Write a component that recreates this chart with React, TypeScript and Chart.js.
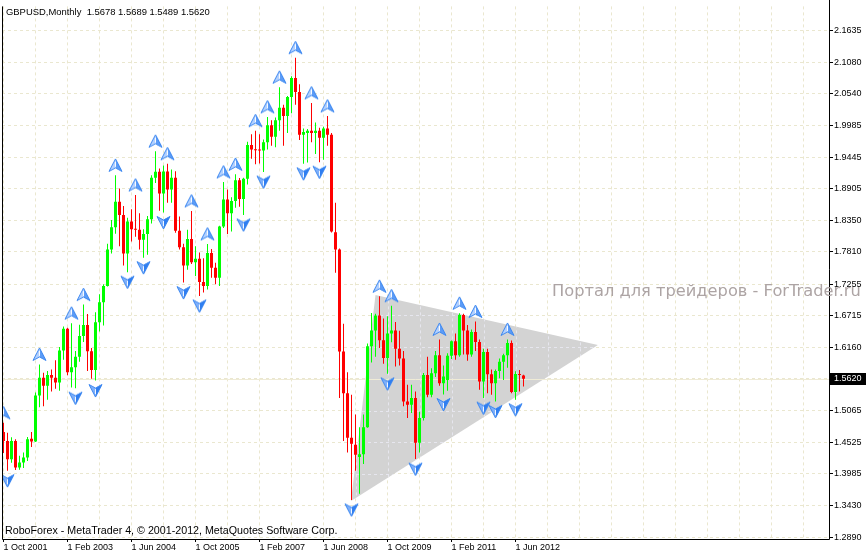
import React, { useEffect, useRef } from 'react';
import { Chart, registerables } from 'chart.js';
Chart.register(...registerables);

// ---- data: GBPUSD monthly, first bar = Oct 2001 ----
const startYear = 2001;
const startMonth = 9; // October (0-based)
const MONTHS = ['Jan', 'Feb', 'Mar', 'Apr', 'May', 'Jun', 'Jul', 'Aug', 'Sep', 'Oct', 'Nov', 'Dec'];

const opens = [
  1.4700, 1.4547, 1.4230, 1.4547, 1.4091, 1.4177, 1.4262, 1.4587, 1.4540, 1.5333,
  1.5640, 1.5498, 1.5686, 1.5640, 1.5555, 1.6110, 1.6483, 1.5731, 1.5818, 1.6000,
  1.6357, 1.6550, 1.6095, 1.5770, 1.6597, 1.6940, 1.7223, 1.7850, 1.8236, 1.8674,
  1.8447, 1.7780, 1.8333, 1.8200, 1.8190, 1.8020, 1.8117, 1.8373, 1.9090, 1.9190,
  1.8817, 1.9198, 1.8885, 1.9090, 1.8174, 1.7890, 1.7576, 1.8030, 1.7630, 1.7690,
  1.7290, 1.7223, 1.7790, 1.7536, 1.7365, 1.8248, 1.8714, 1.8475, 1.8686, 1.9045,
  1.8720, 1.9073, 1.9654, 1.9574, 1.9565, 1.9560, 1.9700, 1.9995, 1.9796, 2.0080,
  2.0297, 2.0155, 2.0480, 2.0810, 2.0570, 1.9830, 1.9860, 1.9900, 1.9860, 1.9900,
  1.9780, 1.9940, 1.9830, 1.8150, 1.7850, 1.6090, 1.5370, 1.4604, 1.4480, 1.4270,
  1.4320, 1.4786, 1.6181, 1.6454, 1.6710, 1.6283, 1.5980, 1.6400, 1.6454, 1.6140,
  1.5970, 1.5230, 1.5173, 1.5290, 1.4518, 1.4945, 1.5686, 1.5344, 1.5714, 1.6027,
  1.5543, 1.5600, 1.6016, 1.6266, 1.6027, 1.6720, 1.6454, 1.6040, 1.6426, 1.6255,
  1.5572, 1.6084, 1.5697, 1.5543, 1.5754, 1.5913, 1.6027, 1.6238, 1.5390, 1.5703,
  1.5678,
];
const highs = [
  1.4860, 1.4689, 1.4610, 1.4575, 1.4291, 1.4348, 1.4615, 1.4701, 1.5384, 1.5868,
  1.5725, 1.5754, 1.5782, 1.5942, 1.6170, 1.6520, 1.6500, 1.6580, 1.6100, 1.6551,
  1.6900, 1.6738, 1.6150, 1.6768, 1.7080, 1.7251, 1.7951, 1.8361, 1.9130, 1.8902,
  1.8600, 1.8400, 1.8544, 1.8790, 1.8475, 1.8200, 1.8430, 1.9130, 1.9546, 1.9250,
  1.9300, 1.9330, 1.9233, 1.9200, 1.8420, 1.7950, 1.8190, 1.8515, 1.7905, 1.7800,
  1.7700, 1.7946, 1.7860, 1.7621, 1.8260, 1.9016, 1.8885, 1.8750, 1.9147, 1.9085,
  1.9090, 1.9710, 1.9840, 1.9900, 1.9840, 1.9750, 2.0138, 2.0080, 2.0130, 2.0650,
  2.0350, 2.0500, 2.0838, 2.1160, 2.0700, 1.9940, 1.9930, 2.0380, 2.0041, 1.9950,
  1.9970, 2.0155, 1.9860, 1.8657, 1.7870, 1.6568, 1.5731, 1.5344, 1.5003, 1.4786,
  1.5003, 1.6230, 1.6756, 1.6740, 1.7043, 1.6660, 1.6700, 1.6880, 1.6600, 1.6450,
  1.6100, 1.5515, 1.5515, 1.5400, 1.5050, 1.5720, 1.5999, 1.5800, 1.6100, 1.6300,
  1.5850, 1.6060, 1.6280, 1.6400, 1.6750, 1.6740, 1.6550, 1.6470, 1.6608, 1.6300,
  1.6140, 1.6140, 1.5780, 1.5780, 1.5970, 1.6050, 1.6300, 1.6280, 1.5750, 1.5770,
  1.5689,
];
const lows = [
  1.4340, 1.4035, 1.4170, 1.4046, 1.4050, 1.4080, 1.4200, 1.4444, 1.4530, 1.5128,
  1.5145, 1.5259, 1.5401, 1.5450, 1.5412, 1.5950, 1.5680, 1.5470, 1.5458, 1.5913,
  1.6255, 1.5754, 1.5620, 1.5590, 1.6438, 1.6540, 1.7211, 1.7781, 1.8122, 1.7906,
  1.7576, 1.7460, 1.7990, 1.8070, 1.7850, 1.7710, 1.7760, 1.8300, 1.9000, 1.8520,
  1.8490, 1.8658, 1.8658, 1.8140, 1.7850, 1.7280, 1.7500, 1.7600, 1.7394, 1.7050,
  1.7110, 1.7160, 1.7365, 1.7251, 1.7223, 1.8220, 1.8120, 1.8162, 1.8570, 1.8589,
  1.8447, 1.8970, 1.9415, 1.9320, 1.9335, 1.9187, 1.9574, 1.9642, 1.9614, 1.9900,
  1.9642, 1.9859, 2.0200, 2.0350, 1.9740, 1.9330, 1.9350, 1.9700, 1.9500, 1.9358,
  1.9398, 1.9642, 1.8145, 1.7450, 1.5287, 1.4547, 1.4348, 1.3530, 1.4035, 1.3636,
  1.4150, 1.4775, 1.5900, 1.6000, 1.6150, 1.5880, 1.5705, 1.6250, 1.5830, 1.5850,
  1.5145, 1.4945, 1.5030, 1.4234, 1.4350, 1.4900, 1.5300, 1.5300, 1.5650, 1.5500,
  1.5350, 1.5412, 1.5960, 1.5950, 1.6000, 1.6040, 1.5930, 1.6000, 1.6100, 1.5430,
  1.5287, 1.5370, 1.5344, 1.5230, 1.5629, 1.5600, 1.5810, 1.5370, 1.5259, 1.5400,
  1.5489,
];
const closes = [
  1.4547, 1.4230, 1.4547, 1.4091, 1.4177, 1.4262, 1.4575, 1.4540, 1.5333, 1.5640,
  1.5498, 1.5686, 1.5640, 1.5555, 1.6110, 1.6483, 1.5731, 1.5818, 1.6000, 1.6357,
  1.6550, 1.6095, 1.5770, 1.6597, 1.6940, 1.7223, 1.7850, 1.8236, 1.8674, 1.8447,
  1.7780, 1.8333, 1.8200, 1.8190, 1.8020, 1.8117, 1.8373, 1.9090, 1.9190, 1.8817,
  1.9198, 1.8885, 1.9090, 1.8174, 1.7890, 1.7576, 1.8030, 1.7630, 1.7690, 1.7290,
  1.7223, 1.7790, 1.7536, 1.7365, 1.8248, 1.8714, 1.8475, 1.8686, 1.9045, 1.8720,
  1.9073, 1.9654, 1.9574, 1.9565, 1.9560, 1.9700, 1.9995, 1.9796, 2.0080, 2.0297,
  2.0155, 2.0480, 2.0810, 2.0570, 1.9830, 1.9880, 1.9900, 1.9860, 1.9900, 1.9780,
  1.9940, 1.9830, 1.8160, 1.7850, 1.6090, 1.5370, 1.4604, 1.4500, 1.4310, 1.4320,
  1.4786, 1.6181, 1.6454, 1.6710, 1.6283, 1.5980, 1.6400, 1.6454, 1.6140, 1.5970,
  1.5230, 1.5173, 1.5290, 1.4518, 1.4945, 1.5686, 1.5344, 1.5714, 1.6027, 1.5543,
  1.5660, 1.6016, 1.6266, 1.6027, 1.6720, 1.6454, 1.6040, 1.6426, 1.6255, 1.5572,
  1.6084, 1.5697, 1.5543, 1.5754, 1.5913, 1.6027, 1.6238, 1.5390, 1.5703, 1.5686,
  1.5620,
];

// bar indices that carry a fractal arrow
const upFractals = [0, 9, 17, 20, 28, 33, 38, 41, 47, 51, 55, 58, 63, 66, 69, 73, 77, 81, 94, 97, 109, 114, 118, 126];
const downFractals = [1, 18, 23, 31, 35, 40, 45, 49, 60, 65, 75, 79, 87, 96, 103, 110, 120, 123, 128];

// hand-drawn triangle object (bar index, price)
const triangleX = [93.0, 86.875, 148.6, 93.0];
const triangleY = [1.7066, 1.3513, 1.6204, 1.7066];

const yTickValues = [2.1635, 2.1080, 2.0540, 1.9985, 1.9445, 1.8905, 1.8350, 1.7810, 1.7255, 1.6715, 1.6160, 1.5620, 1.5065, 1.4525, 1.3985, 1.3430, 1.2890];
const xLabelEvery = 16;
const xGridEvery = 8;
const currentPrice = 1.5620;
const headerText = 'GBPUSD,Monthly  1.5678 1.5689 1.5489 1.5620';
const copyrightText = 'RoboForex - MetaTrader 4, \u00A9 2001-2012, MetaQuotes Software Corp.';
const watermarkText = 'Портал для трейдеров - ForTrader.ru';

// ---- view / style ----
const W = 867;
const H = 556;
const X_MIN = -0.375;
const X_MAX = 206.375;
const Y_MIN = 1.285584;
const Y_MAX = 2.204492;
const UP = '#00FF00';
const DOWN = '#FF0000';
const GRID = '#EAE7CF';
const FONT = '"Liberation Sans", Arial, sans-serif';

function dateLabel(i: number) {
  const m = startMonth + i;
  return `1 ${MONTHS[m % 12]} ${startYear + Math.floor(m / 12)}`;
}

function makeArrow(up: boolean) {
  const c = document.createElement('canvas');
  c.width = 15;
  c.height = 41;
  const g = c.getContext('2d')!;
  g.save();
  g.translate(7.5, up ? 10.5 : 30.5);
  if (!up) g.scale(1, -1);
  g.beginPath();
  g.moveTo(0, -6.5);
  g.lineTo(6.5, 6);
  g.lineTo(0, 2.5);
  g.lineTo(-6.5, 6);
  g.closePath();
  g.fillStyle = up ? '#B3D1FF' : '#7FB0FA';
  g.fill();
  g.save();
  g.clip();
  g.fillStyle = up ? '#5C9CF7' : '#2F7EF0';
  g.fillRect(0.5, -8, 8, 16);
  g.restore();
  g.strokeStyle = '#3A86F0';
  g.lineWidth = 1;
  g.stroke();
  g.strokeStyle = 'rgba(255,255,255,0.9)';
  g.beginPath();
  g.moveTo(0, -3.5);
  g.lineTo(0, 1.5);
  g.stroke();
  g.restore();
  return c;
}

function fitText(ctx: CanvasRenderingContext2D, text: string, x: number, y: number, width: number, family: string) {
  ctx.font = `100px ${family}`;
  const w = ctx.measureText(text).width;
  const size = (100 * width) / w;
  ctx.font = `${size}px ${family}`;
  ctx.fillText(text, x, y);
}

export default function App() {
  const ref = useRef<HTMLCanvasElement | null>(null);

  useEffect(() => {
    document.body.style.margin = '0';
    document.body.style.background = '#fff';
    const canvas = ref.current!;
    const n = opens.length;
    const colors = opens.map((o, i) => (closes[i] >= o ? UP : DOWN));
    const bodies = opens.map((o, i) => ({ x: i, y: [o, closes[i]] }));
    const wicks = lows.map((l, i) => ({ x: i, y: [l, highs[i]] }));
    const tri = triangleX.map((x, i) => ({ x, y: triangleY[i] }));
    const upPts = upFractals.map((i) => ({ x: i, y: highs[i] }));
    const dnPts = downFractals.map((i) => ({ x: i, y: lows[i] }));
    const xTicks: number[] = [];
    for (let v = 0; v <= X_MAX; v += xGridEvery) xTicks.push(v);

    const overlay = {
      id: 'overlay',
      afterDatasetDraw(chart: any, args: any) {
        if (args.index !== 0) return;
        const { ctx, chartArea, scales } = chart;
        // grid showing through the triangle object
        ctx.save();
        ctx.beginPath();
        tri.forEach((p, i) => {
          const px = scales.x.getPixelForValue(p.x);
          const py = scales.y.getPixelForValue(p.y);
          if (i === 0) ctx.moveTo(px, py);
          else ctx.lineTo(px, py);
        });
        ctx.closePath();
        ctx.clip();
        ctx.strokeStyle = '#E6E6EE';
        ctx.lineWidth = 1;
        ctx.setLineDash([3, 3]);
        yTickValues.forEach((v) => {
          const y = Math.round(scales.y.getPixelForValue(v)) + 0.5;
          ctx.beginPath();
          ctx.moveTo(chartArea.left, y);
          ctx.lineTo(chartArea.right, y);
          ctx.stroke();
        });
        xTicks.forEach((v) => {
          const x = Math.round(scales.x.getPixelForValue(v)) + 0.5;
          ctx.beginPath();
          ctx.moveTo(x, chartArea.top);
          ctx.lineTo(x, chartArea.bottom);
          ctx.stroke();
        });
        ctx.restore();
        // current price line
        const y = Math.round(scales.y.getPixelForValue(currentPrice)) + 0.5;
        ctx.save();
        ctx.strokeStyle = '#EFEBD6';
        ctx.lineWidth = 1;
        ctx.beginPath();
        ctx.moveTo(chartArea.left, y);
        ctx.lineTo(chartArea.right, y);
        ctx.stroke();
        ctx.restore();
      },
      afterDraw(chart: any) {
        const { ctx, chartArea, scales } = chart;
        ctx.save();
        // frame
        ctx.strokeStyle = '#000';
        ctx.lineWidth = 1;
        ctx.beginPath();
        ctx.moveTo(chartArea.left + 0.5, chartArea.top);
        ctx.lineTo(chartArea.left + 0.5, chartArea.bottom + 0.5);
        ctx.lineTo(chartArea.right + 0.5, chartArea.bottom + 0.5);
        ctx.lineTo(chartArea.right + 0.5, 0);
        ctx.stroke();
        // texts
        ctx.fillStyle = '#000';
        ctx.textBaseline = 'alphabetic';
        ctx.textAlign = 'left';
        fitText(ctx, headerText, 6, 14.5, 204, FONT);
        fitText(ctx, copyrightText, 5, 534, 333, FONT);
        ctx.fillStyle = '#ADA4A4';
        fitText(ctx, watermarkText, 552, 296, 309, '"DejaVu Sans", sans-serif');
        // current price box
        const py = Math.round(scales.y.getPixelForValue(currentPrice));
        ctx.fillStyle = '#000';
        ctx.fillRect(chartArea.right + 1, py - 6, 36, 12);
        ctx.fillStyle = '#fff';
        ctx.textBaseline = 'middle';
        ctx.font = `9px ${FONT}`;
        ctx.fillText(currentPrice.toFixed(4), chartArea.right + 5, py);
        ctx.restore();
      },
    };

    const chart = new Chart(canvas, {
      type: 'bar',
      data: {
        datasets: [
          {
            type: 'line',
            data: tri as any,
            fill: 'shape',
            backgroundColor: '#D3D3D3',
            borderWidth: 0,
            borderColor: 'rgba(0,0,0,0)',
            pointRadius: 0,
            tension: 0,
            order: 10,
          } as any,
          {
            type: 'bar',
            data: wicks as any,
            backgroundColor: colors,
            barThickness: 1,
            grouped: false,
            inflateAmount: 0,
            borderWidth: 0,
            order: 3,
          } as any,
          {
            type: 'bar',
            data: bodies as any,
            backgroundColor: colors,
            barThickness: 3,
            grouped: false,
            inflateAmount: 0,
            borderWidth: 0,
            minBarLength: 1,
            order: 2,
          } as any,
          {
            type: 'scatter',
            data: upPts as any,
            pointStyle: makeArrow(true),
            pointRadius: 7,
            order: 1,
          } as any,
          {
            type: 'scatter',
            data: dnPts as any,
            pointStyle: makeArrow(false),
            pointRadius: 7,
            order: 0,
          } as any,
        ],
      },
      options: {
        responsive: false,
        animation: false,
        events: [],
        devicePixelRatio: 1,
        layout: { padding: { left: 2, top: 1, right: 0, bottom: 0 }, autoPadding: false },
        plugins: { legend: { display: false }, tooltip: { enabled: false } },
        scales: {
          x: {
            type: 'linear',
            min: X_MIN,
            max: X_MAX,
            offset: false,
            afterBuildTicks: (s: any) => {
              s.ticks = xTicks.map((v) => ({ value: v }));
            },
            afterFit: (s: any) => {
              s.height = 17;
            },
            grid: {
              color: GRID,
              offset: false,
              tickLength: 3,
              tickColor: (c: any) => (c.tick && c.tick.value % xLabelEvery === 0 && c.tick.value < n ? '#000' : 'rgba(0,0,0,0)'),
            },
            border: { display: false, dash: [3, 3] },
            ticks: {
              autoSkip: false,
              maxRotation: 0,
              minRotation: 0,
              align: 'start',
              padding: 0,
              color: '#000',
              font: { family: FONT, size: 9 },
              callback: (v: any) => (v % xLabelEvery === 0 && v < n ? dateLabel(v) : ''),
            },
          } as any,
          y: {
            type: 'linear',
            position: 'right',
            min: Y_MIN,
            max: Y_MAX,
            afterBuildTicks: (s: any) => {
              s.ticks = yTickValues.map((v) => ({ value: v }));
            },
            afterFit: (s: any) => {
              s.width = W - 829;
            },
            grid: { color: GRID, tickLength: 4, tickColor: '#000' },
            border: { display: false, dash: [3, 3] },
            ticks: {
              padding: 1,
              color: '#000',
              font: { family: FONT, size: 9 },
              callback: (v: any) => Number(v).toFixed(4),
            },
          } as any,
        },
      },
      plugins: [overlay],
    });
    return () => chart.destroy();
  }, []);

  return (
    <div style={{ width: W, height: H, background: '#fff' }}>
      <canvas ref={ref} width={W} height={H} style={{ display: 'block' }} />
    </div>
  );
}
